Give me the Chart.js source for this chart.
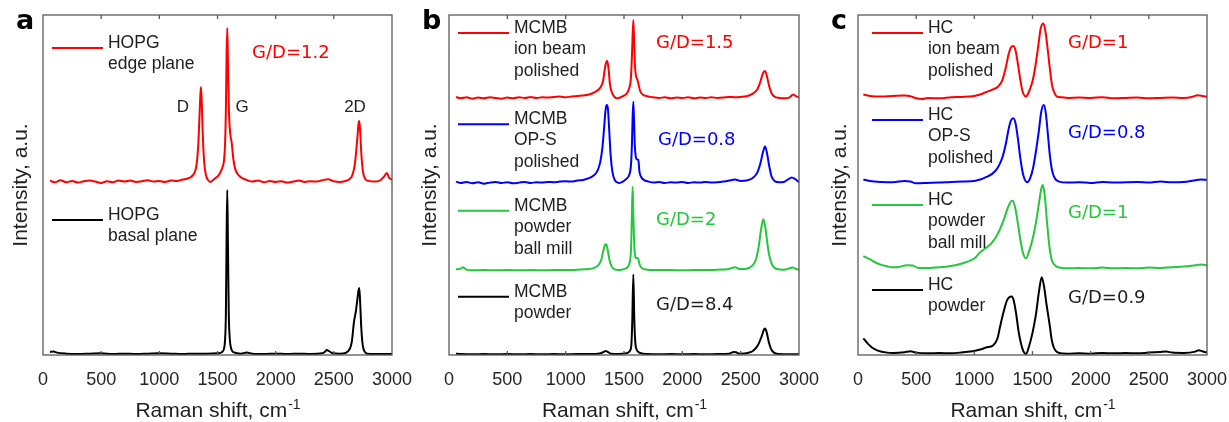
<!DOCTYPE html>
<html>
<head>
<meta charset="utf-8">
<script src="https://cdn.jsdelivr.net/npm/chart.js@4.4.1/dist/chart.umd.min.js"></script>
<style>
  body { margin: 0; background: #fff; }
  .layer { position: absolute; left: 0; top: 0; width: 1229px; height: 422px; }
</style>
</head>
<body>
<div class="layer"><canvas id="chartA"></canvas></div>
<div class="layer"><canvas id="chartB"></canvas></div>
<div class="layer"><canvas id="chartC"></canvas></div>
<script>
// x axis ticks (Raman shift, cm-1)
const X_TICKS = [0, 500, 1000, 1500, 2000, 2500, 3000];

// spectra as [raman shift, intensity (a.u., stacked)]
// panel a: HOPG
const A_EDGE = [[60,51.3],[100,50.8],[150,51.4],[200,50.8],[250,51.2],[300,50.7],[350,51.1],[400,51.3],[450,51.0],[500,50.6],[550,51.1],[600,50.8],[650,51.3],[700,51.0],[750,51.3],[800,50.9],[850,51.1],[900,51.4],[950,51.0],[1000,51.2],[1050,50.9],[1100,51.3],[1150,51.2],[1200,51.6],[1250,52.0],[1280,52.6],[1300,53.5],[1320,56],[1335,62],[1345,70],[1352,76],[1358,78.8],[1364,75],[1372,66],[1385,57],[1400,53],[1420,51.4],[1440,50.9],[1460,51.4],[1480,52],[1500,52.5],[1520,53.4],[1540,55],[1555,57],[1565,62],[1572,72],[1578,88],[1584,96.2],[1590,86],[1598,72],[1610,65],[1622,62.5],[1635,58],[1650,55],[1670,53.4],[1700,52.3],[1750,51.5],[1800,51.0],[1850,51.3],[1900,50.8],[1950,51.2],[2000,50.9],[2050,51.1],[2100,50.7],[2150,51.0],[2200,51.3],[2250,50.9],[2300,51.1],[2350,51.0],[2400,51.4],[2450,51.7],[2500,51.1],[2550,50.9],[2600,51.2],[2630,51.6],[2660,53],[2680,56],[2695,61],[2705,65],[2712,68],[2719,68.8],[2726,66],[2735,60],[2750,54],[2770,51.8],[2800,51.2],[2850,51.0],[2900,51.4],[2930,52.4],[2955,53.5],[2975,52.2],[3000,51.6]];
const A_BASAL = [[60,0.9],[90,1.0],[120,0.7],[200,0.4],[300,0.3],[400,0.4],[500,0.5],[600,0.3],[700,0.4],[800,0.3],[900,0.4],[1000,0.5],[1100,0.4],[1200,0.3],[1300,0.4],[1400,0.4],[1500,0.5],[1540,0.9],[1555,1.8],[1565,4.5],[1572,12],[1578,34],[1584,48.5],[1590,32],[1597,12],[1605,5],[1615,2.2],[1630,1.0],[1660,0.6],[1700,0.4],[1750,0.7],[1800,0.4],[1900,0.3],[2000,0.4],[2100,0.3],[2200,0.4],[2300,0.3],[2400,0.5],[2425,1.0],[2440,1.5],[2460,1.1],[2490,0.5],[2550,0.4],[2600,0.6],[2625,1.2],[2640,2],[2655,4],[2673,9.7],[2690,13],[2703,16.5],[2712,19],[2719,19.7],[2727,15],[2736,8],[2748,3],[2765,1],[2790,0.4],[2900,0.3],[3000,0.3]];

// panel b: MCMB
const B_ION = [[60,75.9],[100,75.5],[150,75.8],[200,75.4],[250,75.7],[300,75.5],[350,75.8],[400,75.6],[450,75.4],[500,75.7],[550,75.5],[600,75.8],[650,75.6],[700,75.9],[750,75.6],[800,75.8],[850,75.7],[900,75.9],[950,76.0],[1000,75.8],[1050,76.0],[1100,76.2],[1150,76.3],[1200,76.6],[1250,77.3],[1280,78],[1300,78.8],[1320,80.5],[1335,84],[1346,86],[1357,86.5],[1368,84],[1380,79.5],[1395,77.3],[1410,76.3],[1430,75.6],[1450,75.5],[1470,75.8],[1500,76.3],[1525,77],[1545,78.5],[1558,81],[1566,86],[1573,93],[1580,98.5],[1587,92],[1594,85],[1603,82],[1615,81],[1625,79.5],[1640,77.5],[1660,76.6],[1700,76.1],[1750,75.8],[1800,75.6],[1850,75.8],[1900,75.5],[1950,75.7],[2000,75.6],[2050,75.8],[2100,75.5],[2150,75.7],[2200,75.6],[2250,75.8],[2300,75.6],[2350,75.7],[2400,75.9],[2450,75.8],[2500,75.9],[2550,76.1],[2600,76.8],[2640,78],[2670,80.5],[2690,82.8],[2709,83.5],[2725,82],[2745,79],[2765,77],[2790,76],[2830,75.6],[2880,75.5],[2920,75.8],[2950,76.6],[2970,76.2],[3000,75.8]];
const B_OPS = [[60,51.0],[100,50.6],[150,50.9],[200,50.5],[250,50.8],[300,50.4],[350,50.7],[400,50.9],[450,50.6],[500,50.8],[550,50.5],[600,50.7],[650,50.9],[700,50.6],[750,50.8],[800,50.7],[850,50.9],[900,50.8],[950,51.0],[1000,51.1],[1050,51.0],[1100,51.3],[1150,51.5],[1200,52],[1240,52.8],[1270,54],[1295,56.5],[1315,61],[1330,67],[1342,72],[1352,73.5],[1362,72.5],[1372,67],[1385,59],[1400,54],[1420,51.5],[1440,50.8],[1460,50.6],[1490,51],[1520,51.8],[1545,53],[1560,56],[1568,62],[1574,70],[1580,74.5],[1586,69],[1592,62],[1600,58.5],[1612,57.5],[1623,57.4],[1632,54],[1645,52.5],[1670,51.5],[1710,51],[1760,50.7],[1800,50.9],[1850,50.6],[1900,50.8],[1950,50.7],[2000,50.9],[2050,50.6],[2100,50.8],[2150,50.7],[2200,50.9],[2250,50.7],[2300,50.8],[2350,51.0],[2400,51.3],[2450,51.6],[2500,51.2],[2550,51.3],[2600,52],[2640,53.5],[2670,56.5],[2690,59.5],[2709,61.3],[2725,59.5],[2745,55.5],[2765,52.5],[2790,51.2],[2830,50.8],[2870,50.9],[2900,51.5],[2937,52.2],[2965,51.8],[3000,50.8]];
const B_MILL = [[60,25.2],[100,25.4],[120,25.8],[150,25.1],[200,24.9],[300,25.0],[400,24.9],[500,25.0],[600,24.9],[700,25.0],[800,24.9],[900,25.0],[1000,25.0],[1100,25.1],[1200,25.3],[1250,25.7],[1280,26.4],[1305,28],[1325,31],[1338,32.4],[1348,32.6],[1360,31],[1375,28],[1395,26],[1420,25.2],[1450,25],[1480,25.1],[1510,25.4],[1535,26],[1550,27.5],[1560,31],[1567,40],[1574,49.5],[1581,40],[1590,31],[1600,28.5],[1612,28.6],[1622,28.3],[1635,26.5],[1655,25.5],[1700,25.1],[1800,25.0],[1900,25.0],[2000,24.9],[2100,25.0],[2200,25.0],[2300,25.1],[2400,25.3],[2450,25.8],[2490,25.3],[2550,25.4],[2600,26.3],[2630,28],[2655,32],[2675,37],[2694,39.9],[2712,37.5],[2730,32.5],[2750,28.5],[2775,26.2],[2810,25.3],[2870,25.1],[2920,25.5],[2945,25.7],[2975,25.3],[3000,25.0]];
const B_POWDER = [[60,0.4],[100,0.3],[200,0.2],[300,0.3],[400,0.2],[500,0.3],[600,0.2],[700,0.3],[800,0.2],[900,0.3],[1000,0.2],[1100,0.3],[1200,0.3],[1250,0.3],[1300,0.5],[1330,1.0],[1345,1.2],[1360,0.9],[1390,0.4],[1450,0.3],[1520,0.5],[1550,1.2],[1563,3],[1571,10],[1580,23.7],[1588,11],[1596,4],[1606,1.8],[1620,1],[1645,0.5],[1700,0.3],[1800,0.2],[1900,0.3],[2000,0.2],[2100,0.3],[2200,0.2],[2300,0.3],[2400,0.4],[2440,0.9],[2460,0.8],[2490,0.4],[2560,0.6],[2610,1.3],[2650,3],[2680,5.5],[2700,7.5],[2709,7.8],[2722,6.8],[2740,4],[2760,1.8],[2785,0.7],[2830,0.3],[2900,0.2],[3000,0.2]];

// panel c: hard carbon
const C_ION = [[46,76.6],[100,76.2],[200,76.0],[300,76.2],[400,76.3],[450,76.1],[500,75.5],[550,75.3],[600,75.6],[700,75.5],[800,75.8],[900,75.9],[1000,76.2],[1050,76.6],[1100,77.3],[1150,78.0],[1200,78.8],[1240,80.8],[1270,84.5],[1295,88.5],[1315,90.5],[1335,90.9],[1355,89.5],[1375,85.5],[1395,81],[1415,77.5],[1444,76],[1470,77.5],[1500,80.5],[1525,85],[1550,91],[1570,96],[1593,97.5],[1612,95],[1632,89.5],[1650,84],[1670,79],[1690,77],[1710,76],[1750,75.8],[1800,75.6],[1900,75.7],[2000,75.6],[2100,75.8],[2200,75.5],[2300,75.6],[2400,75.7],[2500,75.5],[2600,75.6],[2700,75.7],[2800,75.6],[2870,75.9],[2920,76.4],[2960,76.2],[3000,75.9]];
const C_OPS = [[46,51.6],[100,51.2],[200,50.9],[300,50.8],[400,51.2],[450,51.0],[500,50.5],[600,50.6],[700,50.7],[800,50.9],[900,51.0],[1000,51.2],[1050,51.6],[1100,52.3],[1150,53.2],[1200,55],[1240,58],[1270,62],[1295,66.5],[1315,69],[1335,69.6],[1355,68],[1375,63.5],[1395,58],[1420,53],[1455,50.8],[1480,52],[1505,55],[1530,60],[1555,66],[1575,71.5],[1597,73.5],[1615,71],[1632,65],[1650,58.5],[1670,54],[1695,51.8],[1730,51],[1800,50.7],[1900,50.8],[2000,50.6],[2100,50.9],[2200,50.7],[2300,50.8],[2400,50.9],[2500,50.7],[2600,51.0],[2700,50.8],[2800,50.9],[2850,51.1],[2900,51.4],[2950,51.6],[3000,51.5]];
const C_MILL = [[46,29.1],[100,28.2],[150,27.2],[200,26.5],[250,26.1],[300,25.8],[350,25.9],[420,26.4],[470,26.3],[520,25.6],[600,25.6],[700,25.8],[800,26.2],[900,27.0],[1000,28.4],[1050,30.2],[1100,31.5],[1150,33],[1200,35.5],[1250,39.5],[1290,43.5],[1315,45.2],[1330,45.4],[1350,43.5],[1375,38.5],[1400,33],[1420,29.8],[1444,28.4],[1470,30.5],[1500,34],[1530,39],[1555,44.5],[1575,48.8],[1588,50],[1605,47],[1625,39],[1645,32],[1665,28],[1690,26.5],[1720,25.8],[1800,25.5],[1900,25.6],[2000,25.5],[2100,25.7],[2200,25.5],[2300,25.6],[2400,25.5],[2500,25.7],[2600,25.6],[2700,25.8],[2800,26],[2900,26.4],[2950,26.6],[3000,26.4]];
const C_POWDER = [[46,4.9],[80,3.5],[120,2.2],[170,1.3],[250,0.7],[300,0.6],[400,0.8],[450,1.1],[500,0.7],[600,0.5],[700,0.6],[800,0.5],[900,0.8],[1000,1.2],[1050,1.6],[1100,2.2],[1163,2.9],[1200,5],[1221,8.3],[1250,12.5],[1280,16],[1300,17],[1322,17.2],[1340,15.8],[1360,12],[1380,7],[1400,3.5],[1420,1.2],[1444,0.3],[1470,2.5],[1500,6.5],[1530,12],[1555,18.5],[1579,22.9],[1600,20],[1620,15],[1638,11],[1650,8.3],[1665,4.5],[1680,2.5],[1700,1.2],[1730,0.6],[1800,0.4],[1900,0.5],[2000,0.4],[2100,0.6],[2200,0.5],[2300,0.6],[2400,0.5],[2500,0.7],[2600,0.9],[2650,1.0],[2700,0.7],[2800,0.6],[2900,1.0],[2930,1.4],[2960,1.1],[3000,0.7]];

// text shown in the plots
const LEGEND_A = [["HOPG", "edge plane"], ["HOPG", "basal plane"]];
const LEGEND_B = [["MCMB", "ion beam", "polished"], ["MCMB", "OP-S", "polished"], ["MCMB", "powder", "ball mill"], ["MCMB", "powder"]];
const LEGEND_C = [["HC", "ion beam", "polished"], ["HC", "OP-S", "polished"], ["HC", "powder", "ball mill"], ["HC", "powder"]];
const RATIO_A = ["G/D=1.2"];
const RATIO_B = ["G/D=1.5", "G/D=0.8", "G/D=2", "G/D=8.4"];
const RATIO_C = ["G/D=1", "G/D=0.8", "G/D=1", "G/D=0.9"];
const PEAKS_A = ["D", "G", "2D"];

const RED = "#ff0000", BLUE = "#0000ff", GREEN = "#24c83a", BLACK = "#000000";
const TEXT = "#1f1f1f";

const panels = [
  {
    id: "chartA", letter: "a", padLeft: 0, axisW: 43, padRight: 1229 - 392, yTitleDx: -22,
    series: [[A_EDGE, RED], [A_BASAL, BLACK]],
    legend: [
      { text: LEGEND_A[0], color: RED, x: 77, y: 90.3 },
      { text: LEGEND_A[1], color: BLACK, x: 77, y: 39.7 }
    ],
    ratios: [{ text: RATIO_A[0], color: RED, x: 1797, y: 88.8 }],
    peaks: [
      { text: PEAKS_A[0], x: 1203, y: 72.9 },
      { text: PEAKS_A[1], x: 1711, y: 72.9 },
      { text: PEAKS_A[2], x: 2682, y: 72.9 }
    ]
  },
  {
    id: "chartB", letter: "b", padLeft: 410, axisW: 39, padRight: 1229 - 799, yTitleDx: -19,
    series: [[B_ION, RED], [B_OPS, BLUE], [B_MILL, GREEN], [B_POWDER, BLACK]],
    legend: [
      { text: LEGEND_B[0], color: RED, x: 77, y: 94.7 },
      { text: LEGEND_B[1], color: BLUE, x: 77, y: 67.9 },
      { text: LEGEND_B[2], color: GREEN, x: 77, y: 42.4 },
      { text: LEGEND_B[3], color: BLACK, x: 77, y: 17.1 }
    ],
    ratios: [
      { text: RATIO_B[0], color: RED, x: 1774, y: 91.8 },
      { text: RATIO_B[1], color: BLUE, x: 1791, y: 63.2 },
      { text: RATIO_B[2], color: GREEN, x: 1774, y: 39.7 },
      { text: RATIO_B[3], color: TEXT, x: 1774, y: 14.7 }
    ],
    peaks: []
  },
  {
    id: "chartC", letter: "c", padLeft: 820, axisW: 38, padRight: 1229 - 1207, yTitleDx: -18,
    series: [[C_ION, RED], [C_OPS, BLUE], [C_MILL, GREEN], [C_POWDER, BLACK]],
    legend: [
      { text: LEGEND_C[0], color: RED, x: 120, y: 94.7 },
      { text: LEGEND_C[1], color: BLUE, x: 120, y: 69.1 },
      { text: LEGEND_C[2], color: GREEN, x: 120, y: 44.1 },
      { text: LEGEND_C[3], color: BLACK, x: 120, y: 19.1 }
    ],
    ratios: [
      { text: RATIO_C[0], color: RED, x: 1805, y: 91.8 },
      { text: RATIO_C[1], color: BLUE, x: 1805, y: 65.3 },
      { text: RATIO_C[2], color: GREEN, x: 1805, y: 41.8 },
      { text: RATIO_C[3], color: TEXT, x: 1805, y: 16.8 }
    ],
    peaks: []
  }
];

const SANS = "'Liberation Sans', Arial, sans-serif";

// frame, inward ticks, labels and axis titles
const decorPlugin = {
  id: "decor",
  afterDraw(chart, args, opts) {
    const p = opts.panel;
    const { ctx, chartArea: a, scales } = chart;
    const x = scales.x, y = scales.y;
    ctx.save();

    ctx.strokeStyle = "#5a5a5a";
    ctx.lineWidth = 1.3;
    ctx.strokeRect(a.left, a.top, a.right - a.left, a.bottom - a.top);
    for (const v of X_TICKS.slice(1, -1)) {
      const px = x.getPixelForValue(v);
      ctx.beginPath();
      ctx.moveTo(px, a.top); ctx.lineTo(px, a.top + 4);
      ctx.moveTo(px, a.bottom); ctx.lineTo(px, a.bottom - 4);
      ctx.stroke();
    }

    // legend entries
    ctx.textAlign = "left";
    ctx.textBaseline = "middle";
    ctx.font = "17.5px " + SANS;
    for (const l of p.legend) {
      const lx = x.getPixelForValue(l.x), ly = y.getPixelForValue(l.y);
      ctx.strokeStyle = l.color;
      ctx.lineWidth = 2;
      ctx.beginPath();
      ctx.moveTo(lx, ly); ctx.lineTo(lx + 51, ly);
      ctx.stroke();
      ctx.fillStyle = TEXT;
      l.text.forEach((t, i) => ctx.fillText(t, lx + 56, ly - 5 + i * 21.5));
    }

    ctx.font = "18px 'DejaVu Sans', Verdana, sans-serif";
    for (const r of p.ratios) {
      ctx.fillStyle = r.color;
      ctx.fillText(r.text, x.getPixelForValue(r.x), y.getPixelForValue(r.y));
    }

    ctx.textAlign = "center";
    ctx.font = "17px " + SANS;
    ctx.fillStyle = TEXT;
    for (const k of p.peaks) {
      ctx.fillText(k.text, x.getPixelForValue(k.x), y.getPixelForValue(k.y));
    }

    // panel letter
    ctx.textAlign = "left";
    ctx.textBaseline = "alphabetic";
    ctx.fillStyle = "#000";
    ctx.font = "bold 27px 'DejaVu Sans', sans-serif";
    ctx.fillText(p.letter, a.left - 27, a.top + 14);

    // y title
    ctx.fillStyle = TEXT;
    ctx.font = "21px " + SANS;
    ctx.save();
    ctx.translate(a.left + p.yTitleDx, (a.top + a.bottom) / 2);
    ctx.rotate(-Math.PI / 2);
    ctx.textAlign = "center";
    ctx.textBaseline = "middle";
    ctx.fillText("Intensity, a.u.", 0, 0);
    ctx.restore();

    // x title with superscript
    const main = "Raman shift, cm", sup = "-1";
    ctx.font = "21px " + SANS;
    const w1 = ctx.measureText(main).width;
    ctx.font = "14px " + SANS;
    const w2 = ctx.measureText(sup).width;
    const x0 = (a.left + a.right) / 2 - (w1 + w2) / 2;
    ctx.font = "21px " + SANS;
    ctx.fillText(main, x0, 417);
    ctx.font = "14px " + SANS;
    ctx.fillText(sup, x0 + w1 + 1, 409);

    ctx.restore();
  }
};

for (const p of panels) {
  new Chart(document.getElementById(p.id), {
    type: "line",
    data: {
      datasets: p.series.map(([pts, color]) => ({
        data: pts.map(([vx, vy]) => ({ x: vx, y: vy })),
        borderColor: color,
        borderWidth: 2,
        pointRadius: 0,
        fill: false,
        cubicInterpolationMode: "monotone"
      }))
    },
    options: {
      responsive: true,
      maintainAspectRatio: false,
      animation: false,
      layout: { padding: { left: p.padLeft, right: p.padRight, top: 15, bottom: 0 } },
      scales: {
        x: {
          type: "linear",
          min: 0, max: 3000,
          afterBuildTicks: s => { s.ticks = X_TICKS.map(v => ({ value: v })); },
          afterFit: s => { s.height = 67; s.paddingLeft = 0; s.paddingRight = 0; },
          ticks: {
            color: "#262626", font: { family: SANS, size: 18 }, padding: 14,
            autoSkip: false, maxRotation: 0,
            callback: v => String(v)
          },
          grid: { display: false, drawTicks: false },
          border: { display: false }
        },
        y: {
          min: 0, max: 100,
          afterFit: s => { s.width = p.axisW; },
          ticks: { display: false },
          grid: { display: false, drawTicks: false },
          border: { display: false }
        }
      },
      plugins: {
        legend: { display: false },
        tooltip: { enabled: false },
        decor: { panel: p }
      }
    },
    plugins: [decorPlugin]
  });
}
</script>
</body>
</html>
